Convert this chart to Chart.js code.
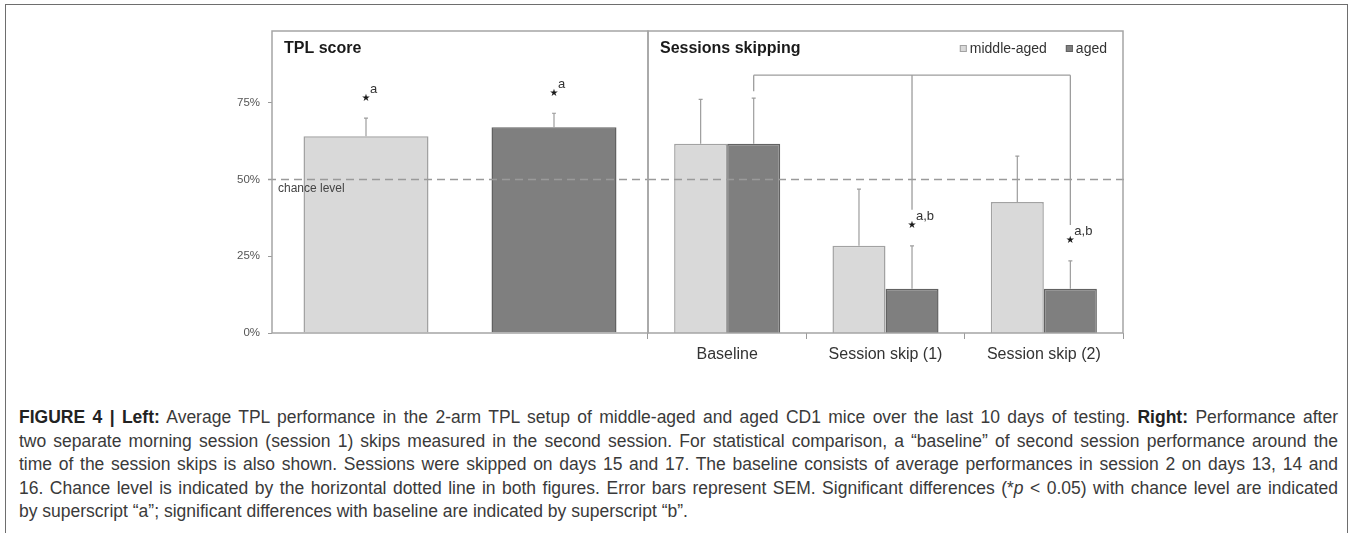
<!DOCTYPE html>
<html>
<head>
<meta charset="utf-8">
<script src="https://cdn.jsdelivr.net/npm/chart.js@4.4.1/dist/chart.umd.min.js"></script>
<style>
  html, body { margin:0; padding:0; background:#fff; width:1356px; height:533px; overflow:hidden; }
  #frame { position:absolute; left:5px; top:4px; width:1343px; height:640px; border:1.5px solid #6e6e6e; box-sizing:border-box; }
  #leftWrap { position:absolute; left:196px; top:0; width:456px; height:380px; }
  #rightWrap { position:absolute; left:640px; top:0; width:492px; height:380px; }
  #caption { position:absolute; left:19px; top:406px; width:1319px; font-family:'Liberation Sans', Arial, sans-serif; font-size:17.5px; color:#3a3a3a; }
  #caption div { height:23.6px; line-height:23.6px; text-align:justify; text-align-last:justify; white-space:normal; }
  #caption div.last { text-align:left; text-align-last:left; }
  #caption b { color:#222; }
</style>
</head>
<body>
<div id="frame"></div>
<div id="leftWrap"><canvas id="leftChart" width="456" height="380"></canvas></div>
<div id="rightWrap"><canvas id="rightChart" width="492" height="380"></canvas></div>
<div id="caption">
  <div><b>FIGURE 4 | Left:</b> Average TPL performance in the 2-arm TPL setup of middle-aged and aged CD1 mice over the last 10 days of testing. <b>Right:</b> Performance after</div>
  <div>two separate morning session (session 1) skips measured in the second session. For statistical comparison, a “baseline” of second session performance around the</div>
  <div>time of the session skips is also shown. Sessions were skipped on days 15 and 17. The baseline consists of average performances in session 2 on days 13, 14 and</div>
  <div>16. Chance level is indicated by the horizontal dotted line in both figures. Error bars represent SEM. Significant differences (*<i>p</i> &lt; 0.05) with chance level are indicated</div>
  <div class="last">by superscript “a”; significant differences with baseline are indicated by superscript “b”.</div>
</div>
<script>
// ---------- data ----------
const tplGroups = ['middle-aged', 'aged'];
const tplScore = [64.1, 67.0];
const tplSem = [5.9, 4.6];
const tplSig = ['a', 'a'];

const skipCategories = ['Baseline', 'Session skip (1)', 'Session skip (2)'];
const middleAged = [61.7, 28.4, 42.7];
const middleAgedSem = [14.4, 18.5, 14.9];
const middleAgedSig = ['', '', ''];
const aged = [61.7, 14.4, 14.4];
const agedSem = [14.8, 14.0, 9.1];
const agedSig = ['', 'a,b', 'a,b'];

const yTicks = [0, 25, 50, 75];
const chanceLevel = 50;
const bracketLevel = 84;

// ---------- styles ----------
const LIGHT = '#d9d9d9', LIGHT_BORDER = '#a2a2a2';
const DARK = '#7f7f7f', DARK_BORDER = '#626262';
const FRAME = '#a5a5a5', ERR = '#9d9d9d', DASH = '#9a9a9a';
const FONT = "'Liberation Sans', Arial, sans-serif";
Chart.defaults.font.family = FONT;

function errTopPx(chart, dsIndex, j) {
  const ds = chart.data.datasets[dsIndex];
  return chart.scales.y.getPixelForValue(ds.data[j] + ds.sem[j]);
}
function starPos(chart, dsIndex, j) {
  const el = chart.getDatasetMeta(dsIndex).data[j];
  return { x: el.x, y: errTopPx(chart, dsIndex, j) - 20 };
}

const panelPlugin = {
  id: 'panel',
  afterDatasetsDraw(chart, args, opts) {
    const { ctx, chartArea: a } = chart;
    const yS = chart.scales.y;
    ctx.save();
    // chance level dashed line
    const yc = yS.getPixelForValue(chanceLevel);
    ctx.strokeStyle = DASH; ctx.lineWidth = 1.5; ctx.setLineDash([8, 5]);
    ctx.beginPath(); ctx.moveTo(a.left + opts.dashFrom, yc); ctx.lineTo(a.right + opts.dashTo, yc); ctx.stroke();
    ctx.setLineDash([]);
    // panel frame
    ctx.strokeStyle = FRAME; ctx.lineWidth = 1.5;
    ctx.strokeRect(a.left, a.top, a.right - a.left, a.bottom - a.top);
    // error bars and significance marks
    chart.data.datasets.forEach((ds, i) => {
      const meta = chart.getDatasetMeta(i);
      meta.data.forEach((el, j) => {
        const yTop = errTopPx(chart, i, j);
        ctx.strokeStyle = ERR; ctx.lineWidth = 1.2;
        ctx.beginPath(); ctx.moveTo(el.x, el.y); ctx.lineTo(el.x, yTop);
        ctx.moveTo(el.x - 2, yTop); ctx.lineTo(el.x + 2, yTop); ctx.stroke();
        const sig = ds.sig[j];
        if (sig) {
          const p = starPos(chart, i, j);
          ctx.fillStyle = '#1a1a1a';
          ctx.font = "10px 'DejaVu Sans'";
          ctx.textAlign = 'center'; ctx.textBaseline = 'middle';
          ctx.fillText('★', p.x, p.y);
          ctx.fillStyle = '#333';
          ctx.font = '13px ' + FONT;
          ctx.textAlign = 'left';
          ctx.fillText(sig, p.x + 4, p.y - 9);
        }
      });
    });
    // title
    ctx.fillStyle = '#1a1a1a';
    ctx.font = 'bold 16px ' + FONT;
    ctx.textAlign = 'left'; ctx.textBaseline = 'middle';
    ctx.fillText(opts.title, a.left + 12, a.top + 18);
    // chance level label
    if (opts.chanceLabel) {
      ctx.fillStyle = '#444';
      ctx.font = '12px ' + FONT;
      ctx.fillText(opts.chanceLabel, a.left + 6, yc + 9);
    }
    // legend
    if (opts.legend) {
      ctx.font = '14px ' + FONT;
      const items = chart.data.datasets.map(ds => ({ label: ds.label, bg: ds.backgroundColor, bd: ds.borderColor, w: ctx.measureText(ds.label).width }));
      let total = 0;
      items.forEach((it, k) => { total += 8 + 3 + it.w + (k < items.length - 1 ? 19 : 0); });
      let x = a.right - 14 - total;
      const ly = a.top + 18;
      items.forEach(it => {
        ctx.fillStyle = it.bg; ctx.strokeStyle = it.bd; ctx.lineWidth = 1;
        ctx.fillRect(x, ly - 4, 7, 7); ctx.strokeRect(x + 0.5, ly - 3.5, 6, 6);
        x += 10;
        ctx.fillStyle = '#333';
        ctx.fillText(it.label, x, ly);
        x += it.w + 19;
      });
    }
    // bracket connecting baseline to session skips (aged group)
    if (opts.bracket) {
      const di = 1;
      const meta = chart.getDatasetMeta(di);
      const yb = yS.getPixelForValue(bracketLevel);
      const xs = meta.data.map(el => el.x);
      ctx.strokeStyle = ERR; ctx.lineWidth = 1.3;
      ctx.beginPath();
      ctx.moveTo(xs[0], yb); ctx.lineTo(xs[xs.length - 1], yb);
      meta.data.forEach((el, j) => {
        const sig = chart.data.datasets[di].sig[j];
        const end = sig ? starPos(chart, di, j).y - 16 : errTopPx(chart, di, j) - 7;
        ctx.moveTo(el.x, yb); ctx.lineTo(el.x, end);
      });
      ctx.stroke();
    }
    ctx.restore();
  }
};

const yAxisBase = {
  min: 0, max: 98.4,
  afterBuildTicks(s) { s.ticks = yTicks.map(v => ({ value: v })); }
};

new Chart(document.getElementById('leftChart'), {
  type: 'bar',
  data: {
    labels: tplGroups,
    datasets: [{
      label: 'TPL score',
      data: tplScore,
      sem: tplSem,
      sig: tplSig,
      backgroundColor: [LIGHT, DARK],
      borderColor: [LIGHT_BORDER, DARK_BORDER],
      borderWidth: 1.5,
      categoryPercentage: 0.665,
      barPercentage: 1.0
    }]
  },
  options: {
    responsive: false, animation: false,
    layout: { padding: { top: 31, bottom: 47, left: 0, right: 4 } },
    plugins: {
      legend: { display: false }, tooltip: { enabled: false },
      panel: { title: 'TPL score', chanceLabel: 'chance level', dashFrom: -4, dashTo: 0 }
    },
    scales: {
      x: { display: false },
      y: Object.assign({}, yAxisBase, {
        afterFit(s) { s.width = 76; },
        ticks: { callback: v => v + '%', padding: 8, color: '#555', font: { size: 11.5 } },
        grid: { drawOnChartArea: false, tickLength: 4, color: '#9a9a9a' },
        border: { display: false }
      })
    }
  },
  plugins: [panelPlugin]
});

new Chart(document.getElementById('rightChart'), {
  type: 'bar',
  data: {
    labels: skipCategories,
    datasets: [
      { label: 'middle-aged', data: middleAged, sem: middleAgedSem, sig: middleAgedSig,
        backgroundColor: LIGHT, borderColor: LIGHT_BORDER, borderWidth: 1.5,
        categoryPercentage: 0.67, barPercentage: 1.0 },
      { label: 'aged', data: aged, sem: agedSem, sig: agedSig,
        backgroundColor: DARK, borderColor: DARK_BORDER, borderWidth: 1.5,
        categoryPercentage: 0.67, barPercentage: 1.0 }
    ]
  },
  options: {
    responsive: false, animation: false,
    layout: { padding: { top: 31, bottom: 17, left: 8, right: 9 } },
    plugins: {
      legend: { display: false }, tooltip: { enabled: false },
      panel: { title: 'Sessions skipping', legend: true, bracket: true, dashFrom: 0, dashTo: 2 }
    },
    scales: {
      x: {
        afterFit(s) { s.height = 30; },
        ticks: { padding: 6, color: '#333', font: { size: 16 } },
        grid: { drawOnChartArea: false, tickLength: 6, color: '#9a9a9a', offset: true },
        border: { display: false }
      },
      y: Object.assign({}, yAxisBase, { display: false })
    }
  },
  plugins: [panelPlugin]
});
</script>
</body>
</html>
